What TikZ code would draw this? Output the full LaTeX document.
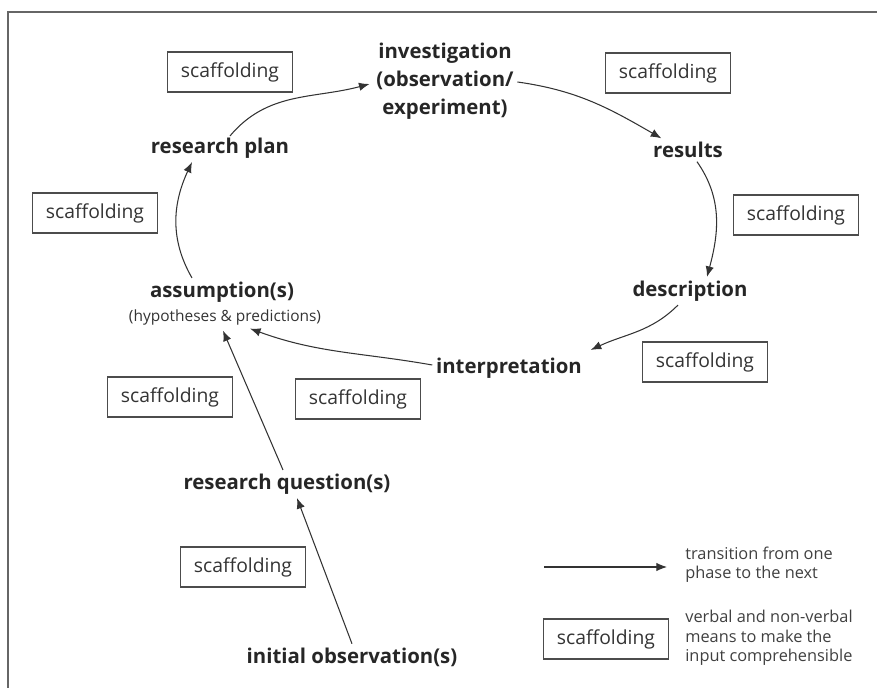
\documentclass[tikz,border=0pt]{standalone}
\usepackage{fontspec}
\setmainfont{Open Sans}
\usetikzlibrary{arrows.meta,calc}

\begin{document}
\begin{tikzpicture}[x=0.02cm,y=-0.02cm,
  phase/.style={font=\bfseries\fontsize{11.6}{16}\selectfont,text=black!85,align=center,inner sep=2pt},
  hypo/.style={font=\fontsize{8.8}{11}\selectfont,text=black!80,inner sep=2pt},
  scaff/.style={draw=black!70,line width=0.6pt,font=\fontsize{11}{12}\selectfont,text=black!80,
    minimum width=2.5cm,minimum height=0.8cm,inner sep=0pt},
  trans/.style={draw=black!80,line width=0.6pt,-{Latex[length=6pt,width=4.8pt]}},
  note/.style={font=\fontsize{9.3}{11}\selectfont,text=black!75,align=left,anchor=west,inner sep=0pt}]
\useasboundingbox (0,0) rectangle (877,688);
\draw[black!60,line width=0.9pt] (877,12) -- (8,12) -- (8,688);

% phases of the cycle
\node[phase] (inv) at (445,81) {investigation\\(observation/\\experiment)};
\node[phase] (plan) at (220,148) {research plan};
\node[phase] (res) at (688,150) {results};
\node[phase] (descr) at (690,291) {description};
\node[phase] (interp) at (509,368) {interpretation};
\node[phase] (assum) at (222,292) {assumption(s)};
\node[hypo] (hyp) at (225,317) {(hypotheses \& predictions)};
\node[phase] (quest) at (287,484) {research question(s)};
\node[phase] (init) at (352,657) {initial observation(s)};

% scaffolding boxes
\node[scaff] (s1) at (230,72) {scaffolding};
\node[scaff] (s2) at (668,73) {scaffolding};
\node[scaff] (s3) at (95,213) {scaffolding};
\node[scaff] (s4) at (796,215) {scaffolding};
\node[scaff] (s5) at (705,362) {scaffolding};
\node[scaff] (s6) at (170,397) {scaffolding};
\node[scaff] (s7) at (358,399) {scaffolding};
\node[scaff] (s8) at (243,567) {scaffolding};

% transitions
\draw[trans] ($(plan.north)+(10,2)$) to[out=50,in=195] ($(inv.west)+(-3,3)$);
\draw[trans] ($(inv.east)+(0,1)$) to[out=-8,in=150] ($(res.north west)+(12,0)$);
\draw[trans] ($(res.south)+(9,0)$) to[out=-55,in=75] ($(descr.north)+(17,0)$);
\draw[trans] ($(descr.south)+(-12,0)$) to[out=-135,in=25] ($(interp.north east)+(5,-4)$);
\draw[trans] ($(interp.west)+(0,-3)$) to[out=170,in=-20] ($(hyp.south)+(25,0)$);
\draw[trans] ($(assum.north)+(-30,0)$) to[out=120,in=-115] ($(plan.south)+(-28,0)$);
\draw[trans] ($(quest.north)+(-4,0)$) -- ($(hyp.south)+(-2,2)$);
\draw[trans] (init.north) -- ($(quest.south)+(10,0)$);

% legend
\coordinate (la) at (544,567);
\coordinate (lb) at (667,567);
\draw[trans] (la) -- (lb);
\node[note] (ltrans) at (685,565) {transition from one\\phase to the next};
\node[scaff] (lbox) at (606,639) {scaffolding};
\node[note] (lverb) at (685,638) {verbal and non-verbal\\means to make the\\input comprehensible};
\end{tikzpicture}
\end{document}
